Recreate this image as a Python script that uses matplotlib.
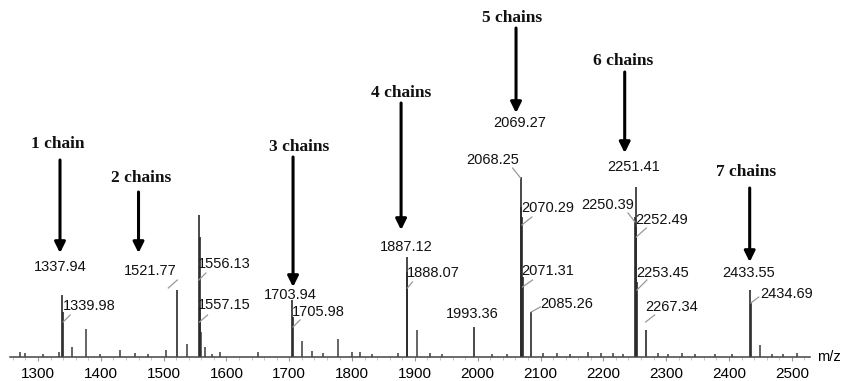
import matplotlib
matplotlib.use("Agg")
import matplotlib.pyplot as plt
from matplotlib.ticker import MultipleLocator

# labelled peaks (m/z, relative intensity)
peak_mz = [1337.94, 1339.98, 1521.77, 1556.13, 1557.15, 1703.94, 1705.98,
           1887.12, 1888.07, 1993.36, 2068.25, 2069.27, 2070.29, 2071.31,
           2085.26, 2250.39, 2251.41, 2252.49, 2253.45, 2267.34, 2433.55, 2434.69]
peak_int = [62, 45, 67, 142, 120, 57, 40,
            100, 85, 30, 150, 180, 140, 80,
            45, 140, 170, 130, 75, 27, 67, 55]

# unlabelled small peaks / noise
minor_mz = [1271, 1279, 1308, 1333, 1354, 1376, 1398, 1430, 1454, 1475, 1504, 1537,
            1558.5, 1560, 1566, 1577, 1590, 1650, 1720, 1736, 1754, 1778, 1800, 1812,
            1832, 1873, 1903, 1924, 1943, 2022, 2046, 2104, 2126, 2147, 2175, 2197,
            2215, 2231, 2287, 2303, 2325, 2346, 2378, 2405, 2449, 2468, 2486, 2508]
minor_int = [5, 4, 3, 5, 10, 28, 3, 7, 4, 3, 7, 13,
             50, 25, 10, 3, 5, 5, 16, 6, 4, 18, 5, 5,
             3, 4, 27, 4, 3, 3, 3, 4, 4, 3, 5, 4,
             4, 3, 4, 3, 4, 3, 3, 3, 12, 3, 3, 4]

# label text positions (m/z, intensity) and leader lines (start height, dx px, dy px)
label_pos = [(1336, 90), (1381, 51), (1478, 86), (1597, 93), (1597, 52), (1702, 62),
             (1747, 45), (1886, 110), (1929, 84), (1992, 43), (2024, 197), (2067, 234),
             (2112, 149), (2112, 86), (2142, 53), (2207, 152), (2249, 190), (2293, 137),
             (2295, 84), (2309, 50), (2432, 84), (2492, 63)]
leaders = [None, (35, 7, 7), (77, -9, -8), (77, 7, 7), (35, 8, 7), None,
           (30, 7, 7), None, (69, 5, 6), None, (179, -8, 10), None,
           (132, 10, 8), (70, 10, 7), (45, 9, 5), (135, -7, 9), None, (120, 10, 9),
           (67, 10, 10), (35, 9, 7), None, (54, 8, 6)]

# chain annotations: text, text position, arrow x, arrow top, arrow bottom
chains = ["1 chain", "2 chains", "3 chains", "4 chains", "5 chains", "6 chains", "7 chains"]
chain_text = [(1331, 213), (1464, 179), (1716, 210), (1878, 264), (2055, 339), (2231, 296), (2427, 185)]
chain_arrow = [(1335, 197, 104), (1460, 165, 104), (1706, 200, 70), (1878, 254, 127),
               (2061, 329, 244), (2234, 285, 204), (2433, 169, 95)]

px_per_mz = 0.628

fig = plt.figure(figsize=(8.43, 3.81), dpi=100)
ax = fig.add_axes([10 / 843, 22 / 381, 800 / 843, 359 / 381])
ax.set_xlim(1255.4, 2529)
ax.set_ylim(-2, 357)

ax.vlines(minor_mz, 0, minor_int, color="#3a3a3a", lw=1.1)
ax.vlines(peak_mz, 0, peak_int, color="#2a2a2a", lw=1.2)

for txt, (lx, ly), ld, mz in zip(peak_mz, label_pos, leaders, peak_mz):
    ax.text(lx, ly, f"{txt:.2f}", ha="center", va="center", fontsize=10.5,
            family="Liberation Sans", color="#111111")
    if ld is not None:
        y0, dx, dy = ld
        ax.plot([mz, mz + dx / px_per_mz], [y0, y0 + dy], color="#999999", lw=0.9)

for name, (tx, ty), (axx, top, bot) in zip(chains, chain_text, chain_arrow):
    ax.text(tx, ty, name, ha="center", va="center", fontsize=12.5,
            family="Liberation Serif", fontweight="bold", color="#111111")
    ax.annotate("", xy=(axx, bot), xytext=(axx, top),
                arrowprops=dict(arrowstyle="-|>", color="black", lw=2.2,
                                mutation_scale=16, shrinkA=0, shrinkB=0))

ax.annotate("m/z", xy=(1, 0), xycoords=("axes fraction", "data"), xytext=(5, 0),
            textcoords="offset points", ha="left", va="center", fontsize=10.5,
            family="Liberation Sans", annotation_clip=False)

for s in ["top", "right", "left"]:
    ax.spines[s].set_visible(False)
ax.spines["bottom"].set_position(("data", 0))
ax.spines["bottom"].set_color("#444444")
ax.spines["bottom"].set_linewidth(1.1)
ax.set_yticks([])
ax.xaxis.set_major_locator(MultipleLocator(100))
ax.xaxis.set_minor_locator(MultipleLocator(20))
ax.tick_params(axis="x", which="major", length=3, color="#999999", pad=4, labelsize=11)
ax.tick_params(axis="x", which="minor", length=2, color="#bbbbbb")
for lab in ax.get_xticklabels():
    lab.set_family("Liberation Sans")

fig.savefig("out.png", dpi=100)
